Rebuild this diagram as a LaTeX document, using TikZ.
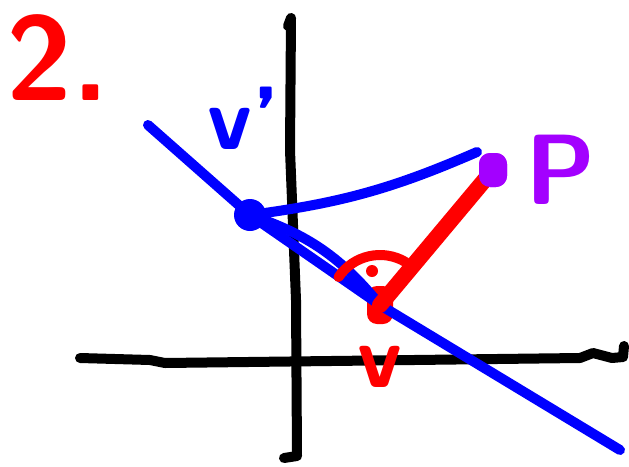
\documentclass[tikz,border=0pt]{standalone}
\usepackage{xcolor}
\definecolor{Pen}{HTML}{FF0000}
\definecolor{Ink}{HTML}{0000FF}
\definecolor{Violet}{HTML}{A300FF}
\usetikzlibrary{positioning}
\tikzset{
  axis/.style={draw=black,line width=10pt,line cap=round,line join=round},
  stroke/.style={draw=Ink,line width=10pt,line cap=round,line join=round},
  redstroke/.style={draw=Pen,line width=10pt,line cap=round,line join=round},
  hand/.style={inner sep=0pt},
  bluedot/.style={circle,fill=Ink,minimum size=32pt,inner sep=0pt},
  reddot/.style={fill=Pen,rounded corners=10pt,minimum width=26pt,minimum height=38pt,inner sep=0pt},
  pdot/.style={fill=Violet,rounded corners=11pt,minimum width=28pt,minimum height=34pt,inner sep=0pt}
}
\begin{document}
\begin{tikzpicture}[x=1pt,y=-1pt]
\useasboundingbox (0,0) rectangle (629,466);
% axes
\draw[axis] (288,26) -- (291,18) -- (290,150) -- (296,300) -- (297,456) -- (284,458);
\draw[axis] (80,358) -- (150,360) -- (165,363) -- (580,358) -- (593,353) -- (612,358) -- (623,357) -- (624,346);
% points
\node[bluedot] (bluept) at (250,215) {};
\node[reddot] (redpt) at (380,305) {};
\node[pdot] (ppt) at (493,170) {};
\coordinate (lineA) at (148,125);
\coordinate (lineB) at (620,450);
\coordinate (tip) at (477,152);
% lines
\draw[stroke] (lineA) -- (bluept.center) -- (redpt.center) -- (lineB);
\draw[stroke] (bluept.center) to[bend left=16] (redpt.center);
\draw[stroke] (bluept.center) to[bend right=8] (tip);
\draw[redstroke,line width=16pt] (redpt.center) -- (ppt.center);
\node[pdot] at (ppt) {};
\draw[redstroke] ([shift={(-146:50)}]redpt.center) arc[start angle=-146,end angle=-59,radius=50];
\fill[Pen] (372,271) circle (6);
% labels
\node[hand,text=Pen,font=\fontsize{120}{120}\selectfont\sffamily\bfseries] (two) at (58,58) {2.};
\node[hand,text=Ink,font=\fontsize{90}{90}\selectfont\sffamily\bfseries] (vprime) at (244,118) {v'};
\node[hand,text=Pen,font=\fontsize{90}{90}\selectfont\sffamily\bfseries,below=22pt of redpt] (vred) {v};
\node[hand,text=Violet,font=\fontsize{100}{100}\selectfont\sffamily\bfseries,right=18pt of ppt] (plabel) {P};
\end{tikzpicture}
\end{document}
